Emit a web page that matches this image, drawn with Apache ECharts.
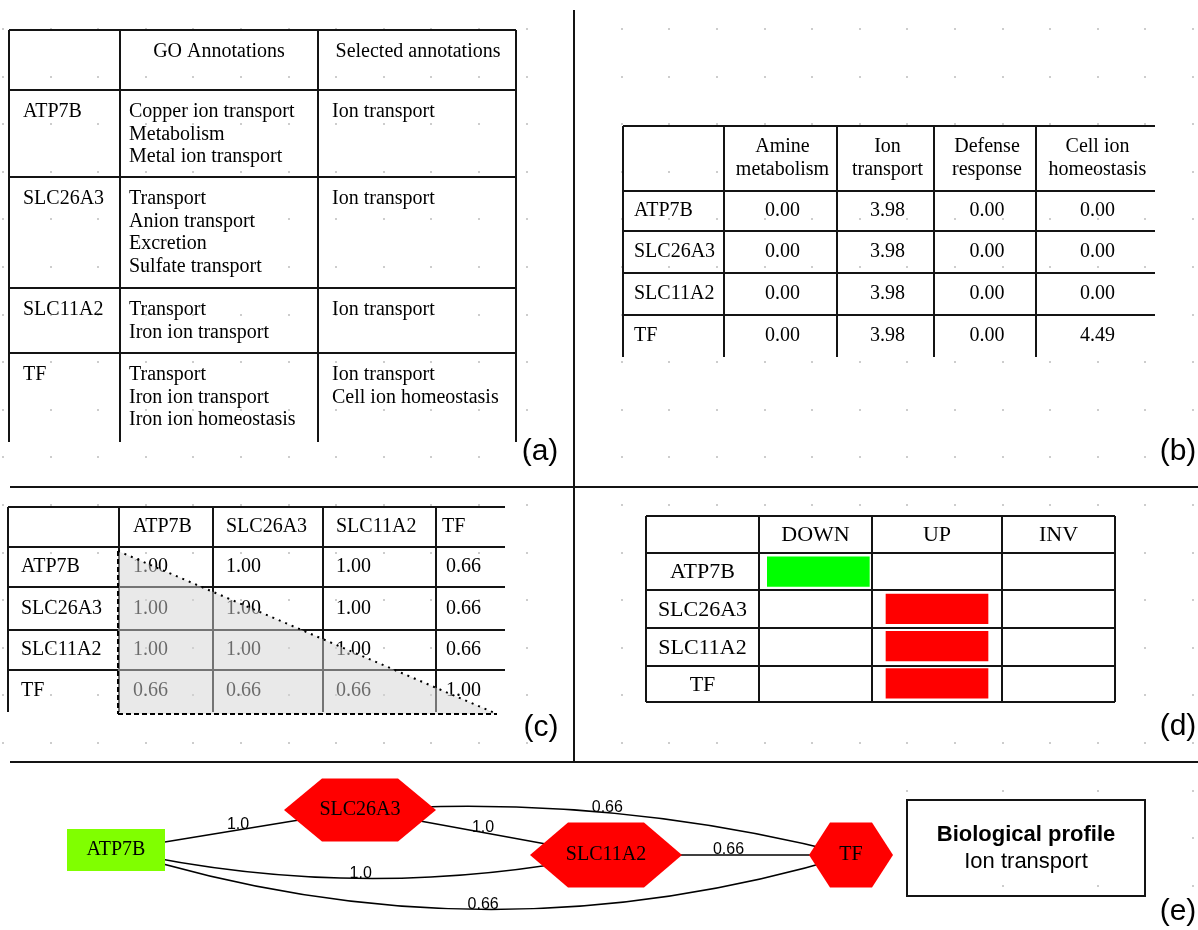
<!DOCTYPE html>
<html>
<head>
<meta charset="utf-8">
<script src="https://cdn.jsdelivr.net/npm/echarts@6/dist/echarts.min.js"></script>
<style>
  html, body { margin: 0; padding: 0; background: #fff; }
  #chart { width: 1198px; height: 930px; }
</style>
</head>
<body>
<div id="chart"></div>
<script>
// ---- Data -------------------------------------------------------------
const genes = ['ATP7B', 'SLC26A3', 'SLC11A2', 'TF'];

// (a) GO annotations found for each gene, and the ones kept
const goAnnotations = [
  ['Copper ion transport', 'Metabolism', 'Metal ion transport'],
  ['Transport', 'Anion transport', 'Excretion', 'Sulfate transport'],
  ['Transport', 'Iron ion transport'],
  ['Transport', 'Iron ion transport', 'Iron ion homeostasis']
];
const selectedAnnotations = [
  ['Ion transport'],
  ['Ion transport'],
  ['Ion transport'],
  ['Ion transport', 'Cell ion homeostasis']
];

// (b) annotation scores per selected term
const termHeaders = [['Amine', 'metabolism'], ['Ion', 'transport'], ['Defense', 'response'], ['Cell ion', 'homeostasis']];
const amineMetabolism = [0.00, 0.00, 0.00, 0.00];
const ionTransport = [3.98, 3.98, 3.98, 3.98];
const defenseResponse = [0.00, 0.00, 0.00, 0.00];
const cellIonHomeostasis = [0.00, 0.00, 0.00, 4.49];

// (c) functional similarity between genes
const similarity = [
  [1.00, 1.00, 1.00, 0.66],
  [1.00, 1.00, 1.00, 0.66],
  [1.00, 1.00, 1.00, 0.66],
  [0.66, 0.66, 0.66, 1.00]
];

// (d) expression state of each gene
const regulationStates = ['DOWN', 'UP', 'INV'];
const regulation = ['DOWN', 'UP', 'UP', 'UP'];

// (e) network of the profile
const profileEdges = [
  ['ATP7B', 'SLC26A3'], ['ATP7B', 'SLC11A2'], ['ATP7B', 'TF'],
  ['SLC26A3', 'SLC11A2'], ['SLC26A3', 'TF'], ['SLC11A2', 'TF']
];
const profileTitle = 'Biological profile';
const profileTerm = 'Ion transport';

// ---- Layout & style ---------------------------------------------------
const SERIF = '"Liberation Serif", "Times New Roman", serif';
const SANS = '"Liberation Sans", Arial, sans-serif';
const F20 = '20px ' + SERIF;
const F22 = '22px ' + SERIF;
const INK = '#141414';
const stateColors = { DOWN: '#00ff00', UP: '#ff0000' };
const nodeColors = { DOWN: '#80ff00', UP: '#ff0000' };
const HEX = 'path://M0 50 L25 0 L75 0 L100 50 L75 100 L25 100 Z';

// hand-arranged network layout (panel e axis units)
const nodePlacement = [[116, 88], [360, 48], [606, 93], [851, 93]];
const nodeSize = [[98, 42], [152, 63], [152, 65], [84, 65]];
const edgeBend = [0, -0.106, -0.155, 0, 0.081, 0];

const G = [];
function line(x1, y1, x2, y2, extra) {
  G.push({ type: 'line', silent: true, z: 5,
    shape: { x1, y1, x2, y2 },
    style: Object.assign({ stroke: INK, lineWidth: 2 }, extra || {}) });
}
function text(x, y, t, font, align, extra) {
  G.push({ type: 'text', silent: true, z: 6, x, y,
    style: Object.assign({ text: t, font, fill: '#000', align: align || 'left', verticalAlign: 'middle' }, extra || {}) });
}

// background dot grid of the drawing canvas
function dot(i, j) {
  G.push({ type: 'rect', silent: true, z: 0,
    shape: { x: Math.round(3 + 47.6 * i) - 1, y: Math.round(29 + 47.6 * j) - 1, width: 2, height: 2 },
    style: { fill: '#cdcdcd' } });
}
for (let i = 0; i <= 25; i++) for (let j = 0; j <= 15; j++) dot(i, j);
[19, 21, 23, 25].forEach(i => [16, 17, 18].forEach(j => dot(i, j)));

// panel dividers
line(574, 10, 574, 762);
line(10, 487, 1198, 487);
line(10, 762, 1198, 762);

// ---- (a) annotation table
const A = { cols: [9, 120, 318, 516], rows: [30, 90, 177, 288, 353], bottom: 442 };
A.rows.forEach(y => line(A.cols[0], y, A.cols[3], y));
A.cols.forEach(x => line(x, A.rows[0], x, A.bottom));
text(219, 52, 'GO Annotations', F20, 'center');
text(418, 52, 'Selected annotations', F20, 'center');
genes.forEach((g, i) => {
  const y0 = A.rows[i + 1] + 22;
  text(23, y0, g, F20);
  goAnnotations[i].forEach((t, k) => text(129, y0 + k * 22.6, t, F20));
  selectedAnnotations[i].forEach((t, k) => text(332, y0 + k * 22.6, t, F20));
});

// ---- (b) score table
const B = { cols: [623, 724, 837, 934, 1036], right: 1155, rows: [126, 191, 231, 273, 315], bottom: 357 };
B.rows.forEach(y => line(B.cols[0], y, B.right, y));
B.cols.forEach(x => line(x, B.rows[0], x, B.bottom));
const scoreColumns = [amineMetabolism, ionTransport, defenseResponse, cellIonHomeostasis];
const bEdges = B.cols.concat([B.right]);
const bRows = B.rows.concat([B.bottom]);
termHeaders.forEach((h, j) => {
  const cx = (bEdges[j + 1] + bEdges[j + 2]) / 2 + 2;
  text(cx, 147, h[0], F20, 'center');
  text(cx, 170, h[1], F20, 'center');
  scoreColumns[j].forEach((v, i) => {
    text(cx, (bRows[i + 1] + bRows[i + 2]) / 2, v.toFixed(2), F20, 'center');
  });
});
genes.forEach((g, i) => text(634, (bRows[i + 1] + bRows[i + 2]) / 2, g, F20));

// ---- (c) similarity table
const C = { cols: [8, 119, 213, 323, 436], right: 505, rows: [507, 547, 587, 630, 670], bottom: 712 };
C.rows.forEach(y => line(C.cols[0], y, C.right, y));
C.cols.forEach(x => line(x, C.rows[0], x, C.bottom));
const cRows = C.rows.concat([C.bottom]);
const cText = [14, 13, 13, 10];
genes.forEach((g, j) => text(C.cols[j + 1] + (j === 3 ? 6 : cText[j]), 527, g, F20));
genes.forEach((g, i) => {
  const cy = (cRows[i + 1] + cRows[i + 2]) / 2;
  text(21, cy, g, F20);
  similarity[i].forEach((v, j) => text(C.cols[j + 1] + cText[j], cy, v.toFixed(2), F20));
});
// shaded lower triangle (symmetric half)
G.push({ type: 'polygon', silent: true, z: 7,
  shape: { points: [[118, 551], [118, 714], [497, 714]] },
  style: { fill: 'rgba(212,212,212,0.5)' } });
line(118, 551, 118, 714, { lineDash: [5, 3], stroke: '#000' });
line(118, 714, 497, 714, { lineDash: [5, 3], stroke: '#000' });
line(118, 551, 497, 714, { lineDash: [2, 5], stroke: '#000' });
G[G.length - 1].z = 8; G[G.length - 2].z = 8; G[G.length - 3].z = 8;

// ---- (d) expression table
const D = { cols: [646, 759, 872, 1002, 1115], rows: [516, 553, 590, 628, 666], bottom: 702 };
G.push({ type: 'rect', silent: true, z: 1,
  shape: { x: D.cols[0], y: D.rows[0], width: D.cols[4] - D.cols[0], height: D.bottom - D.rows[0] },
  style: { fill: '#fff' } });
D.rows.concat([D.bottom]).forEach(y => line(D.cols[0], y, D.cols[4], y));
D.cols.forEach(x => line(x, D.rows[0], x, D.bottom));
const dRows = D.rows.concat([D.bottom]);
regulationStates.forEach((s, j) => text((D.cols[j + 1] + D.cols[j + 2]) / 2, 535, s, F22, 'center'));
genes.forEach((g, i) => text((D.cols[0] + D.cols[1]) / 2, (dRows[i + 1] + dRows[i + 2]) / 2 + 1, g, F22, 'center'));

// ---- (e) profile box
G.push({ type: 'rect', silent: true, z: 5,
  shape: { x: 907, y: 800, width: 238, height: 96 },
  style: { fill: 'none', stroke: INK, lineWidth: 2 } });
text(1026, 835, profileTitle, 'bold 22px ' + SANS, 'center');
text(1026, 862, profileTerm, '22px ' + SANS, 'center');

// panel letters
[['(a)', 540, 452], ['(b)', 1178, 452], ['(c)', 541, 728], ['(d)', 1178, 727], ['(e)', 1178, 912]]
  .forEach(p => text(p[1], p[2], p[0], '30px ' + SANS, 'center'));

// ---- Chart ------------------------------------------------------------
const chart = echarts.init(document.getElementById('chart'), null, { renderer: 'canvas' });

const expressionData = genes.map((g, i) => ({
  value: [regulationStates.indexOf(regulation[i]), i],
  itemStyle: { color: stateColors[regulation[i]] }
}));

const nodes = genes.map((g, i) => ({
  name: g,
  value: nodePlacement[i],
  symbol: regulation[i] === 'DOWN' ? 'rect' : HEX,
  symbolSize: nodeSize[i],
  itemStyle: { color: nodeColors[regulation[i]] }
}));
const links = profileEdges.map(([s, t], k) => ({
  source: s,
  target: t,
  value: similarity[genes.indexOf(s)][genes.indexOf(t)],
  lineStyle: { curveness: edgeBend[k] }
}));

// weight labels sit at the middle of each (quadratic) edge curve, kept upright
const edgeLabels = links.map((l, k) => {
  const p1 = nodePlacement[genes.indexOf(l.source)];
  const p2 = nodePlacement[genes.indexOf(l.target)];
  const c = edgeBend[k];
  const cp = [(p1[0] + p2[0]) / 2 - (p1[1] - p2[1]) * c, (p1[1] + p2[1]) / 2 - (p2[0] - p1[0]) * c];
  return [0.25 * p1[0] + 0.5 * cp[0] + 0.25 * p2[0], 0.25 * p1[1] + 0.5 * cp[1] + 0.25 * p2[1], l.value];
});
const formatWeight = v => (v === 1 ? '1.0' : String(v));

chart.setOption({
  animation: false,
  backgroundColor: '#fff',
  textStyle: { fontFamily: SERIF },
  graphic: { elements: G },
  grid: [
    { left: 759, top: 553, width: 356, height: 149 },
    { left: 0, top: 762, width: 1198, height: 168 }
  ],
  xAxis: [
    { gridIndex: 0, type: 'category', data: regulationStates, show: false },
    { gridIndex: 1, type: 'value', min: 0, max: 1198, show: false }
  ],
  yAxis: [
    { gridIndex: 0, type: 'category', data: genes, inverse: true, show: false },
    { gridIndex: 1, type: 'value', min: 0, max: 168, inverse: true, show: false }
  ],
  series: [
    {
      type: 'custom',
      xAxisIndex: 0, yAxisIndex: 0,
      silent: true,
      z: 3,
      data: expressionData,
      renderItem: (params, api) => {
        const c = api.coord([api.value(0), api.value(1)]);
        const s = api.size([1, 1]);
        return {
          type: 'rect',
          shape: { x: c[0] - s[0] / 2 + 8, y: c[1] - s[1] / 2 + 3.5, width: s[0] - 16, height: s[1] - 7 },
          style: { fill: api.visual('color') }
        };
      }
    },
    {
      type: 'graph',
      coordinateSystem: 'cartesian2d',
      xAxisIndex: 1, yAxisIndex: 1,
      layout: 'none',
      silent: true,
      z: 3,
      data: nodes,
      links: links,
      emphasis: { disabled: true },
      label: { show: true, position: 'inside', fontFamily: SERIF, fontSize: 20, color: '#000' },
      edgeLabel: { show: false },
      lineStyle: { color: '#000', width: 1.5, opacity: 1 }
    },
    {
      type: 'scatter',
      xAxisIndex: 1, yAxisIndex: 1,
      silent: true,
      z: 4,
      symbolSize: 0,
      itemStyle: { opacity: 1 },
      emphasis: { disabled: true },
      data: edgeLabels,
      label: {
        show: true,
        position: 'top',
        distance: -3,
        opacity: 1,
        fontFamily: SANS,
        fontSize: 16,
        color: '#000',
        formatter: p => formatWeight(p.value[2])
      }
    }
  ]
});
</script>
</body>
</html>
